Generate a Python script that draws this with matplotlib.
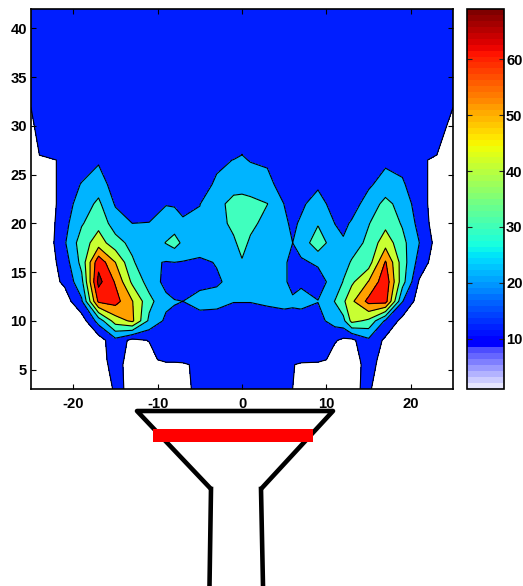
import numpy as np
import matplotlib
matplotlib.use("Agg")
import matplotlib.pyplot as plt
from matplotlib.colors import ListedColormap, Normalize
from matplotlib.cm import ScalarMappable
from matplotlib.patches import Rectangle

plt.rcParams['font.family'] = ['Liberation Sans', 'DejaVu Sans']
plt.rcParams['font.weight'] = 'bold'
plt.rcParams['font.size'] = 10.6
plt.rcParams['axes.unicode_minus'] = False

x_nodes = [-25,-23,-21,-19,-17,-15,-13,-11,-9,-8,-7,-5,-3,-1,0,1,3,5,6,7,9,11,12,13,15,17,19,21,23,25]
y_nodes = [3,5.5,6,8,10,12,14,16,18,20,22,24,26.5,27,32,42]

z_columns = [
 [0,0,0,0,0,0,0,0,0,0,0,0,0,0,5.1,10],
 [0,0,0,0,0,0,0,0,0,0,0,0,0,10,10,10],
 [0,0,0,0,0,0,7,10,14,12,10,10,10,10,10,10],
 [0,0,0,0,0,13.5,22,28,30,24,20,15.5,10,10,10,10],
 [0,0,0,0,19,57,68,62,40,32,27,20.5,13.6,10,10,10],
 [6,9,10,12,40,59,54,45,29,20,14,10,10,10,10,10],
 [4,0,0,2,47,45.5,33,26.5,22,15,10,10,10,10,10,10],
 [0,0,0,5.5,23,28,21,16.5,18,15.3,10,10,10,10,10,10],
 [0,0,10,12,13,17.5,12,14.5,25.5,18,14.7,10,10,10,10,10],
 [0,0,10,12,13,15.5,10,15,29,20,14,10,10,10,10,10],
 [0,2,10,12,12,15,12,14.5,23,17,11,10,10,10,10,10],
 [10,10,10,11,12,17.5,13,14,18,16.5,14.8,11,10,10,10,10],
 [10,10,10,11,12,17,14.3,15.3,19,20,21,16.5,13,11,10,10],
 [10,10,10,11,12,15.2,16.5,18,23,28,29,20,15.2,13,10,10],
 [10,10,10,11,12,15.2,18,24,29,31,29,21,16,15.1,10,10],
 [10,10,10,11,12,15.2,16.5,18,23,28,28,20,14.5,13,10,10],
 [10,10,10,11,12,16,17,17,18,21,25.2,17,14,12,10,10],
 [10,10,10,11,12,17,16.5,16.5,18.5,17,14.8,12,10,10,10,10],
 [5,6,10,11,12,16.5,12,12,15,13,10,10,10,10,10,10],
 [0,2,10,12,12,17,14,14,18,16.5,13,10,10,10,10,10],
 [0,0,10,11,12,15.2,12,16,32,24,20,13,10,10,10,10],
 [0,0,0,6,19,25.3,18,17,18,14.9,10,10,10,10,10,10],
 [0,0,0,3,22,33,25.5,21,16,13,10,10,10,10,10,10],
 [4,0,0,2.5,38,43,33,26,20,16,11,10,10,10,10,10],
 [6,9,10,13,33,58,45.5,30,27.5,24.5,19,13.5,10,10,10,10],
 [0,0,0,3,13.5,59,62,56,41,32,28,19,13,10,10,10],
 [0,0,0,0,2,15.5,29,30,28,24,21,16,12.5,10,10,10],
 [0,0,0,0,0,0,4,11,15.1,12,10,10,10,10,10,10],
 [0,0,0,0,0,0,0,0,2,0,0,0,0,5.2,10,10],
 [0,0,0,0,0,0,0,0,0,0,0,0,0,0,5.1,10],
]

levels = [5,15,25,35,45,55,65]
fill_colors = ['#001EFF','#00B4FF','#40FFBE','#C8FF32','#FFA000','#FF1400','#8C0000']
x_ticks = [-20,-10,0,10,20]
y_ticks = [5,10,15,20,25,30,35,40]
cbar_ticks = [10,20,30,40,50,60]
cbar_range = (1,69)

# nozzle outline, in figure pixels
nozzle_x = [211,137,333,261]
nozzle_y = [489,411,411,489]
wall_left_x = [209.5,211]
wall_right_x = [263,261]
wall_y = [586,489]

W,H = 523,586
fig = plt.figure(figsize=(W/100,H/100),dpi=100)
ax = fig.add_axes([31/W,(H-389)/H,422/W,380/H])
X,Y = np.meshgrid(x_nodes,y_nodes)
Z = np.array(z_columns,dtype=float).T
ax.contourf(X,Y,Z,levels=levels+[1000],colors=fill_colors)
ax.contour(X,Y,Z,levels=levels,colors='k',linewidths=0.8)
ax.set_xlim(-25,25); ax.set_ylim(3,42)
ax.set_xticks(x_ticks); ax.set_yticks(y_ticks)
ax.tick_params(direction='in',top=True,right=True,length=3.5,width=0.8,pad=3)
ax.tick_params(axis='x',pad=6)
for s in ax.spines.values(): s.set_linewidth(1.2)

# colormap: jet whose lowest entries fade to white
n = 64
base = matplotlib.colormaps['jet'](np.linspace(0,1,n))
fade = np.linspace(0.9,0.3,7)
for i,f in enumerate(fade):
    base[i] = (f,f,1,1)
cmap = ListedColormap(base)
cax = fig.add_axes([467/W,(H-389)/H,37/W,380/H])
cb = fig.colorbar(ScalarMappable(norm=Normalize(*cbar_range),cmap=cmap),cax=cax,drawedges=False)
cb.set_ticks(cbar_ticks)
cb.ax.tick_params(direction='in',left=True,right=True,length=3.5,width=0.8,pad=1.5,color='#222222')
cb.outline.set_linewidth(1.2)

ov = fig.add_axes([0,0,1,1],zorder=5)
ov.set_xlim(0,W); ov.set_ylim(H,0); ov.axis('off'); ov.patch.set_alpha(0)
ov.plot(nozzle_x,nozzle_y,color='k',lw=3.3,solid_joinstyle='round',solid_capstyle='butt')
ov.plot(wall_left_x,wall_y,color='k',lw=3.3)
ov.plot(wall_right_x,wall_y,color='k',lw=3.3)
ov.add_patch(Rectangle((153,429),160,13,color='#FF0000',lw=0,zorder=6))

fig.savefig('out.png',dpi=100)
